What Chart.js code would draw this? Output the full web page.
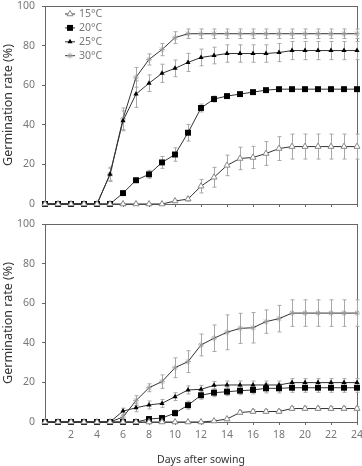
<!DOCTYPE html>
<html>
<head>
<meta charset="utf-8">
<script src="https://cdn.jsdelivr.net/npm/chart.js@4"></script>
<style>
  html, body { margin: 0; padding: 0; background: #fff; }
  #wrap { position: relative; width: 362px; height: 466px; }
  canvas { position: absolute; left: 0; }
  #top { top: 0; }
  #bottom { top: 215px; }
</style>
</head>
<body>
<div id="wrap">
  <canvas id="top" width="362" height="215"></canvas>
  <canvas id="bottom" width="362" height="251"></canvas>
</div>
<script>
const days = [0,1,2,3,4,5,6,7,8,9,10,11,12,13,14,15,16,17,18,19,20,21,22,23,24];
const seriesLabels = ["15°C", "20°C", "25°C", "30°C"];

// top panel
const top15 = [0,0,0,0,0,0,0,0,0,0,1.5,2.5,9,13.5,19.5,23,23.5,25.5,28,29,29,29,29,29,29];
const top20 = [0,0,0,0,0,0,5.5,12,15,21,25,36,48.5,53,54.5,55.5,56.5,57.5,58,58,58,58,58,58,58];
const top25 = [0,0,0,0,0,15,42,55.5,61,66,68.5,71.5,74,75,76,76,76,76,76.5,77.5,77.5,77.5,77.5,77.5,77.5];
const top30 = [0,0,0,0,0,15,43,64,73,78,84,86,86,86,86,86,86,86,86,86,86,86,86,86,86];
const topErr15 = [0,0,0,0,0,0,0,0,0,0,0.5,1,3.4,5,5.2,5.7,5.6,6,6,6.3,6.3,6.3,6.3,6.3,6.3];
const topErr20 = [0,0,0,0,0,0,1,1,2,3,3.4,4.2,2,1.5,1,1,1,1,1,1,1,1,1,1,1];
const topErr25 = [0,0,0,0,0,3,5,6.7,4.2,4.6,4.2,4.6,4.2,4.2,4.4,4.4,4.4,4.4,4.6,4.6,4.6,4.6,4.6,4.6,4.6];
const topErr30 = [0,0,0,0,0,3.6,5.5,5,2.8,3.1,3,2.4,2.4,2.4,2.4,2.4,2.4,2.4,2.4,2.4,2.4,2.4,2.4,2.4,2.4];

// bottom panel
const bot15 = [0,0,0,0,0,0,0,0,0,0,0,0,0,0.5,1.5,4.8,5.3,5.3,5.3,6.8,6.8,6.8,6.8,6.8,6.8];
const bot20 = [0,0,0,0,0,0,0,0,1.5,2,4.5,8.5,13.5,14.8,15.3,15.8,16.2,17,17,17.3,17.3,17.3,17.3,17.3,17.3];
const bot25 = [0,0,0,0,0,0,5.5,7.2,8.6,9.4,12.8,16.2,16.5,18.5,18.7,18.7,18.7,18.7,18.7,19.9,19.9,19.9,19.9,19.9,19.9];
const bot30 = [0,0,0,0,0,0,2.5,10.8,17.3,20.4,27.4,30.5,38.9,42.3,45.3,47.3,47.6,50.7,52.2,55,55,55,55,55,55];
const botErr15 = [0,0,0,0,0,0,0,0,0,0,0,0,0,0.5,0.8,1,1,1,1,1,1,1,1,1,1];
const botErr20 = [0,0,0,0,0,0,0,0,1,1,1.5,2,2,2,2,2,2,2.3,2.3,2.3,2.3,2.3,2.3,2.3,2.3];
const botErr25 = [0,0,0,0,0,0,1.5,2,2,2,2,2,2,2,2,2,2,2,2,2,2,2,2,2,2];
const botErr30 = [0,0,0,0,0,0,1,2.5,2,3.4,5,5.5,5.5,6.7,8.8,7.6,7.7,5.9,6.7,6.7,6.7,6.7,6.7,6.7,6.7];

const FONT = "'Noto Sans', 'Open Sans', sans-serif";
const AXIS = "#666";

const styles = [
  { pointStyle: "triangle", pointRadius: 3.5, pointBackgroundColor: "#fff", pointBorderColor: "#888", pointBorderWidth: 1 },
  { pointStyle: "rect", pointRadius: 4.2, pointBackgroundColor: "#000", pointBorderColor: "#000", pointBorderWidth: 0 },
  { pointStyle: "triangle", pointRadius: 3, pointBackgroundColor: "#000", pointBorderColor: "#000", pointBorderWidth: 0 },
  { pointStyle: "star", pointRadius: 3, pointBackgroundColor: "#999", pointBorderColor: "#999", pointBorderWidth: 0.8 },
];

const errorBars = {
  id: "errorBars",
  beforeDatasetsDraw(chart) {
    const ctx = chart.ctx;
    const xs = chart.scales.x, ys = chart.scales.y;
    ctx.save();
    ctx.strokeStyle = "#a8a8a8";
    ctx.lineWidth = 1;
    chart.data.datasets.forEach((ds) => {
      ds.errors.forEach((e, i) => {
        if (!e) return;
        const x = Math.round(xs.getPixelForValue(days[i])) + 0.5;
        const y1 = ys.getPixelForValue(ds.data[i] + e);
        const y2 = ys.getPixelForValue(ds.data[i] - e);
        ctx.beginPath();
        ctx.moveTo(x, y1); ctx.lineTo(x, y2);
        ctx.moveTo(x - 2, y1); ctx.lineTo(x + 2, y1);
        ctx.moveTo(x - 2, y2); ctx.lineTo(x + 2, y2);
        ctx.stroke();
      });
    });
    ctx.restore();
  },
};

const frame = {
  id: "frame",
  beforeDatasetsDraw(chart) {
    const a = chart.chartArea;
    const ctx = chart.ctx;
    ctx.save();
    ctx.strokeStyle = AXIS;
    ctx.lineWidth = 1;
    ctx.strokeRect(Math.round(a.left) + 0.5, Math.round(a.top) + 0.5,
      Math.round(a.right - a.left), Math.round(a.bottom - a.top));
    ctx.restore();
  },
};

const legendBox = {
  id: "legendBox",
  afterDraw(chart) {
    if (!chart.options.plugins.legendBox.show) return;
    const ctx = chart.ctx;
    const a = chart.chartArea;
    ctx.save();
    chart.data.datasets.forEach((ds, i) => {
      const y = a.top + 8 + i * 13.9;
      const x = a.left + 25;
      ctx.strokeStyle = "#333";
      ctx.lineWidth = 1;
      ctx.beginPath();
      ctx.moveTo(x - 5, y); ctx.lineTo(x + 5, y);
      ctx.stroke();
      ctx.fillStyle = ds.pointBackgroundColor;
      ctx.strokeStyle = ds.pointBorderColor;
      ctx.lineWidth = ds.pointBorderWidth;
      Chart.helpers.drawPoint(ctx, {
        pointStyle: ds.pointStyle, radius: ds.pointRadius, borderWidth: ds.pointBorderWidth, rotation: 0,
      }, x, y);
      ctx.fillStyle = "#777";
      ctx.font = "10.5px " + FONT;
      ctx.textBaseline = "middle";
      ctx.fillText(ds.label, x + 9, y);
    });
    ctx.restore();
  },
};

function makeChart(id, values, errs, isBottom) {
  const datasets = values.map((v, i) => Object.assign({
    label: seriesLabels[i],
    data: v,
    errors: errs[i],
    borderColor: "#333",
    borderWidth: 1,
    tension: 0,
    clip: false,
  }, styles[i]));

  return new Chart(document.getElementById(id), {
    type: "line",
    data: { labels: days, datasets: datasets },
    plugins: [frame, errorBars, legendBox],
    options: {
      responsive: false,
      animation: false,
      devicePixelRatio: 1,
      layout: { padding: { top: isBottom ? 9 : 6, right: 3, left: 0, bottom: 0 } },
      plugins: {
        legend: { display: false },
        tooltip: { enabled: false },
        legendBox: { show: !isBottom },
      },
      scales: {
        x: {
          type: "linear",
          min: 0,
          max: 24,
          border: { display: true, color: AXIS },
          grid: { drawOnChartArea: false, drawTicks: true, tickLength: 3, color: AXIS },
          ticks: {
            display: isBottom,
            stepSize: 2,
            padding: 4,
            color: "#777",
            font: { family: FONT, size: 10.5 },
            maxRotation: 0,
            callback: (v) => (v === 0 ? "" : v),
          },
          title: {
            display: isBottom,
            text: "Days after sowing",
            color: "#333",
            font: { family: FONT, size: 10.5 },
            padding: { top: 0, bottom: 0 },
          },
          afterFit: (s) => { s.height = isBottom ? 44 : 11; s.paddingLeft = 0; s.paddingRight = 0; },
        },
        y: {
          min: 0,
          max: 100,
          border: { display: true, color: AXIS },
          grid: { drawOnChartArea: false, drawTicks: true, tickLength: 3, color: AXIS },
          ticks: {
            stepSize: 20,
            padding: 7,
            color: "#777",
            font: { family: FONT, size: 10.5 },
          },
          title: {
            display: true,
            text: "Germination rate (%)",
            color: "#333",
            font: { family: FONT, size: 12.5 },
            padding: { top: 1, bottom: 0 },
          },
          afterFit: (s) => { s.width = 45; s.paddingTop = 0; s.paddingBottom = 0; },
        },
      },
    },
  });
}

makeChart("top", [top15, top20, top25, top30], [topErr15, topErr20, topErr25, topErr30], false);
makeChart("bottom", [bot15, bot20, bot25, bot30], [botErr15, botErr20, botErr25, botErr30], true);
</script>
</body>
</html>
